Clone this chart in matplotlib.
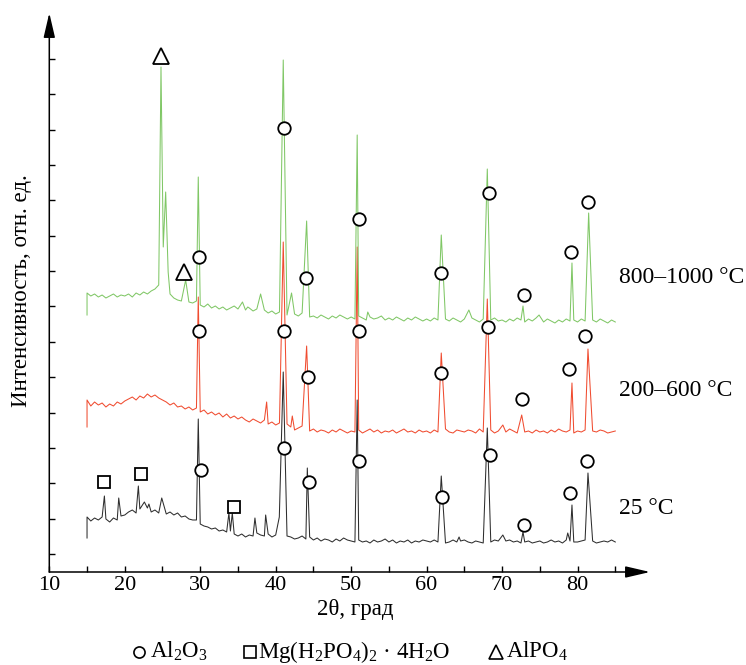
import numpy as np
import matplotlib
matplotlib.use("Agg")
import matplotlib.pyplot as plt
from matplotlib.lines import Line2D

plt.rcParams["font.family"] = ["Liberation Serif", "DejaVu Serif"]
plt.rcParams["mathtext.default"] = "regular"

# 2theta grid of the background points (deg)
two_theta = np.arange(15.0, 85.01, 0.5)

# --- 25 °C (black) ---
black_start = 34
black_base = [55, 51, 54, 52, 55, 53, 50, 54, 52, 56,
              57, 60, 62, 59, 63, 61, 64, 60, 62, 59,
              63, 58, 60, 57, 59, 55, 56, 53, 52, 52,
              48, 46, 45, 43, 44, 41, 42, 40, 41, 38,
              36, 38, 35, 37, 36, 39, 37, 36, 38, 35,
              37, 36, 34, 36, 35, 33, 34, 36, 33, 35,
              32, 34, 31, 33, 32, 30, 33, 31, 34, 32,
              31, 30, 32, 30, 31, 29, 32, 30, 31, 33,
              30, 32, 29, 31, 30, 32, 29, 31, 30, 32,
              31, 30, 32, 30, 31, 29, 30, 32, 30, 31,
              32, 30, 29, 31, 30, 29, 31, 30, 32, 31,
              30, 31, 32, 30, 31, 29, 30, 31, 29, 30,
              31, 29, 30, 32, 30, 31, 29, 32, 31, 30,
              30, 31, 32, 30, 31, 29, 30, 31, 30, 32,
              30]
black_peak_x = [17.3, 19.2, 21.8, 22.6, 23.2, 24.9, 29.74, 33.8, 34.25, 37.25,
                38.67, 40.48, 41.0, 44.19, 50.8, 61.94, 64.3, 68.04, 70.1, 72.77,
                78.7, 79.26, 81.38]
black_peak_y = [76, 74, 86, 70, 68, 74, 153, 59, 59, 54,
                57, 55, 200, 104, 172, 96, 35, 144, 37, 40,
                39, 67, 99]

# --- 200-600 °C (red) ---
red_start = 145
red_base = [172, 166, 170, 167, 169, 165, 168, 166, 170, 168,
            171, 173, 175, 172, 176, 174, 178, 175, 177, 174,
            172, 170, 167, 169, 165, 166, 163, 165, 162, 164,
            160, 162, 158, 160, 157, 159, 155, 158, 154, 156,
            153, 155, 152, 150, 153, 151, 149, 152, 148, 150,
            147, 149, 146, 148, 145, 142, 144, 146, 143, 141,
            143, 140, 142, 141, 139, 142, 140, 143, 141, 139,
            141, 140, 142, 139, 141, 143, 140, 142, 139, 141,
            140, 142, 139, 141, 143, 140, 141, 139, 142, 140,
            141, 139, 142, 140, 141, 143, 140, 139, 142, 141,
            140, 142, 141, 139, 143, 140, 141, 142, 139, 141,
            142, 140, 143, 141, 139, 142, 140, 141, 139, 142,
            140, 141, 139, 142, 140, 143, 141, 140, 142, 139,
            141, 140, 142, 139, 141, 140, 142, 141, 139, 140,
            141]
red_peak_x = [29.74, 38.8, 41.0, 42.2, 44.1, 50.8, 61.94, 68.04, 70.1, 72.6,
              79.26, 81.38]
red_peak_y = [275, 170, 330, 156, 226, 325, 219, 273, 147, 157,
              189, 223]

# --- 800-1000 °C (green) ---
green_start = 257
green_base = [279, 276, 278, 275, 277, 274, 276, 278, 275, 277,
              276, 278, 275, 279, 277, 280, 278, 281, 283, 287,
              300, 290, 278, 274, 272, 271, 270, 270, 269, 271,
              267, 265, 268, 264, 266, 263, 265, 262, 264, 266,
              263, 265, 262, 264, 261, 263, 260, 262, 259, 261,
              258, 260, 259, 257, 260, 258, 256, 259, 257, 255,
              256, 254, 257, 255, 253, 256, 254, 257, 255, 253,
              255, 253, 256, 254, 252, 255, 253, 254, 256, 252,
              254, 252, 255, 253, 251, 254, 252, 255, 253, 251,
              253, 251, 254, 252, 255, 253, 251, 254, 252, 250,
              253, 251, 254, 252, 250, 253, 251, 252, 254, 251,
              252, 250, 253, 251, 254, 252, 250, 253, 251, 254,
              252, 250, 253, 251, 249, 252, 250, 253, 251, 252,
              250, 253, 251, 249, 252, 250, 253, 251, 249, 252,
              250]
green_peak_x = [24.8, 25.1, 25.42, 25.75, 28.07, 29.74, 35.6, 36.3, 38.0, 41.0,
                42.1, 44.1, 50.8, 52.2, 61.94, 65.6, 68.04, 72.77, 74.9, 79.26,
                81.47]
green_peak_y = [505, 325, 380, 300, 292, 395, 270, 265, 278, 512,
                279, 351, 437, 260, 337, 262, 403, 266, 257, 309,
                359]

# phase markers
al2o3_black_x = [30.1, 41.14, 44.45, 51.04, 62.07, 68.35, 72.86, 79.0, 81.25]
al2o3_black_y = [102, 124, 90, 111, 75, 117, 47, 79, 111]
al2o3_red_x = [29.9, 41.1, 44.3, 51.0, 61.94, 68.1, 72.6, 78.9, 81.0]
al2o3_red_y = [241, 241, 195, 241, 199, 245, 173, 203, 236]
al2o3_green_x = [29.9, 41.1, 43.97, 51.08, 61.94, 68.2, 72.9, 79.17, 81.4]
al2o3_green_y = [315, 444, 294, 353, 299, 379, 277, 320, 370]
mgp_x = [17.25, 22.1, 34.5]
mgp_y = [90, 98, 65]
alpo4_x = [24.8, 27.85]
alpo4_y = [516, 300]

y_ticks = 18 + 35.36 * np.arange(15)


def trace(base, start, px, py):
    base = np.asarray(base, float)
    px = np.asarray(px, float)
    keep = np.array([np.min(np.abs(px - t)) > 0.15 for t in two_theta])
    xs = np.concatenate([[15.0], two_theta[keep], px])
    ys = np.concatenate([[start], base[keep], py])
    order = np.argsort(xs, kind="stable")
    return xs[order], ys[order]


fig = plt.figure(figsize=(7.46, 6.65), dpi=100)
ax = fig.add_axes([49.3 / 746, 93 / 665, (650 - 49.3) / 746, 559 / 665])
ax.set_xlim(10, 89.6)
ax.set_ylim(0, 559)

for base, start, px, py, col in [
        (black_base, black_start, black_peak_x, black_peak_y, "#2e2e2e"),
        (red_base, red_start, red_peak_x, red_peak_y, "#f04c30"),
        (green_base, green_start, green_peak_x, green_peak_y, "#80c766")]:
    x, y = trace(base, start, px, py)
    ax.plot(x, y, color=col, lw=0.75)

mk = dict(linestyle="none", mfc="white", mec="black", mew=1.3, zorder=5)
for xx, yy in [(al2o3_black_x, al2o3_black_y), (al2o3_red_x, al2o3_red_y),
               (al2o3_green_x, al2o3_green_y)]:
    ax.plot(xx, yy, marker="o", ms=9, **mk)
ax.plot(mgp_x, mgp_y, marker="s", ms=8.5, **mk)
ax.plot(alpo4_x, alpo4_y, marker="^", ms=11, **mk)

# axes with arrows
for s in ax.spines.values():
    s.set_visible(False)
arrow = dict(arrowstyle="-|>,head_length=1.5,head_width=0.35", color="black",
             lw=1.1, shrinkA=0, shrinkB=0, mutation_scale=10)
ax.annotate("", xy=(1, 0), xytext=(0, 0), xycoords="axes fraction",
            arrowprops=arrow, annotation_clip=False)
ax.annotate("", xy=(0, 1), xytext=(0, 0), xycoords="axes fraction",
            arrowprops=arrow, annotation_clip=False)

ax.set_xticks(np.arange(10, 81, 10))
ax.set_xticks(np.arange(15, 86, 10), minor=True)
ax.set_yticks(y_ticks)
ax.set_yticklabels([])
ax.tick_params(axis="both", which="both", direction="in", length=4.5, width=1)
ax.tick_params(axis="x", labelsize=16, pad=3)

fig.text(22 / 746, 1 - 291 / 665, "Интенсивность, отн. ед.", rotation=90,
         ha="center", va="center", fontsize=16.5)
fig.text(355 / 746, 1 - 609 / 665, "2θ, град", ha="center", va="center",
         fontsize=16.5)

for label, yb in [("800–1000 °C", 283), ("200–600 °C", 396), ("25 °C", 514)]:
    fig.text(619 / 746, 1 - yb / 665, label, ha="left", va="baseline",
             fontsize=17)

# legend row
leg_y = 1 - 652 / 665
for x0, m, ms in [(139, "o", 8), (250, "s", 8), (496, "^", 10)]:
    fig.add_artist(Line2D([x0 / 746], [leg_y], marker=m, ms=ms, mfc="white",
                          mec="black", mew=1.2, linestyle="none"))
for x0, txt in [(150, "Al$_2$O$_3$"),
                (258, "Mg(H$_2$PO$_4$)$_2$ · 4H$_2$O"),
                (506, "AlPO$_4$")]:
    fig.text(x0 / 746, 1 - 658 / 665, txt, ha="left", va="baseline",
             fontsize=16.5)

fig.savefig("out.png", dpi=100)
